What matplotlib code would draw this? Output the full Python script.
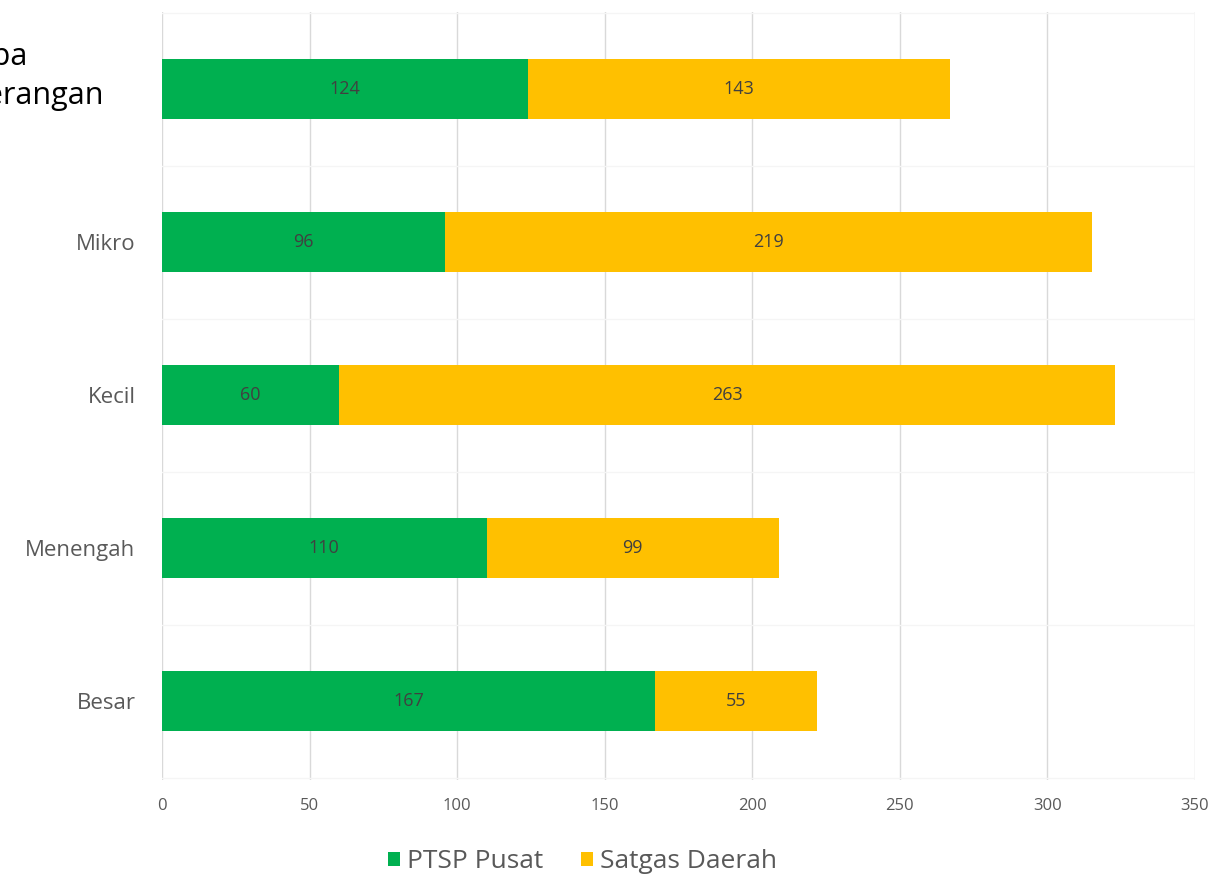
import matplotlib.pyplot as plt
import numpy as np

# kategori usaha (dari bawah ke atas)
kategori = ['Besar', 'Menengah', 'Kecil', 'Mikro', 'Tanpa\nKeterangan']
ptsp_pusat = [167, 110, 60, 96, 124]
satgas_daerah = [55, 99, 263, 219, 143]
x_ticks = [0, 50, 100, 150, 200, 250, 300, 350]

plt.rcParams['font.family'] = ['Open Sans', 'DejaVu Sans']

fig = plt.figure(figsize=(12.14, 8.81), dpi=100)
ax = fig.add_axes([0.1334, 0.1146, 0.8509, 0.8717])

y = np.arange(len(kategori))
bar_h = 0.39
b1 = ax.barh(y, ptsp_pusat, height=bar_h, color='#00B050', label='PTSP Pusat', zorder=3)
b2 = ax.barh(y, satgas_daerah, height=bar_h, left=ptsp_pusat, color='#FFC000',
             label='Satgas Daerah', zorder=3)

# label nilai di tengah tiap segmen
ax.bar_label(b1, labels=[str(v) for v in ptsp_pusat], label_type='center',
             color='#404040', fontsize=13)
ax.bar_label(b2, labels=[str(v) for v in satgas_daerah], label_type='center',
             color='#404040', fontsize=13)

ax.set_xlim(0, 350)
ax.set_ylim(-0.516, len(kategori) - 0.497)
ax.set_xticks(x_ticks)
ax.set_xticklabels([str(t) for t in x_ticks], fontsize=12, color='#595959')
ax.tick_params(axis='x', length=0, pad=13)

# label kategori; yang paling atas pakai gaya berbeda
ax.set_yticks(y)
ax.set_yticklabels(kategori[:-1] + [''], fontsize=16, color='#595959')
ax.tick_params(axis='y', length=0, pad=19)
ax.text(-0.2155, y[-1] + 0.08, kategori[-1], transform=ax.get_yaxis_transform(),
        ha='left', va='center', multialignment='left', fontsize=22,
        color='black', linespacing=1.4)

ax.grid(axis='x', color='#d9d9d9', linewidth=1, zorder=0)
ax.set_yticks(np.arange(-0.5, len(kategori), 0.5), minor=True)
ax.tick_params(axis='y', which='minor', length=0)
ax.grid(axis='y', which='minor', color='#f5f5f5', linewidth=1, zorder=0)
for s in ax.spines.values():
    s.set_visible(False)

fig.legend(handles=[b1, b2], labels=['PTSP Pusat', 'Satgas Daerah'], loc='center',
           bbox_to_anchor=(0.48, 0.0216), ncol=2, frameon=False, fontsize=19,
           labelcolor='#595959', handlelength=0.45, handleheight=0.45,
           handletextpad=0.25, columnspacing=1.45, borderpad=0.2)

fig.savefig('out.png', dpi=100, facecolor='white')
